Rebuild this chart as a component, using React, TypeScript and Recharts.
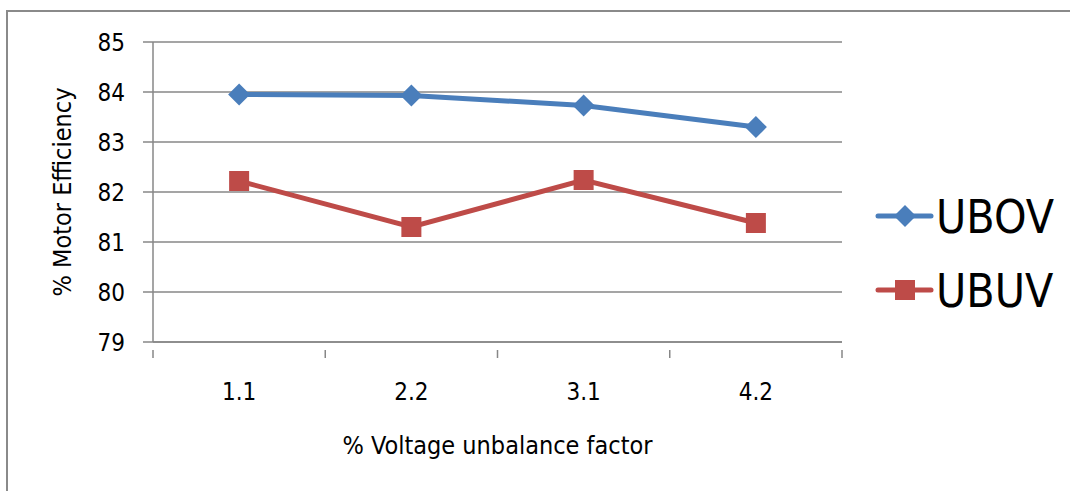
import React from "react";
import { LineChart, Line, XAxis, YAxis, CartesianGrid, Label } from "recharts";

const categories = ["1.1", "2.2", "3.1", "4.2"];
const ubovValues = [83.95, 83.93, 83.73, 83.3];
const ubuvValues = [82.22, 81.3, 82.24, 81.38];
const yTicks = [79, 80, 81, 82, 83, 84, 85];
const seriesNames = ["UBOV", "UBUV"];

const data = categories.map((c, i) => ({ factor: c, UBOV: ubovValues[i], UBUV: ubuvValues[i] }));

const FONT = "'Liberation Sans Narrow', 'DejaVu Sans Condensed', 'Liberation Sans', sans-serif";
const GRID = "#878787";
const BLUE = "#4A7EBB";
const RED = "#BE4B48";

const W = 1070;
const H = 491;
const X_H = 149;
const M = { top: 42, right: 228, bottom: 0, left: 0 };
const Y_W = 153;
const BAND = (W - M.left - M.right - Y_W) / categories.length;

const Diamond = (props: any) => {
    const { cx, cy, fill } = props;
    if (cx == null || cy == null) return null;
    const r = 11;
    return <path d={`M${cx},${cy - r}L${cx + r},${cy}L${cx},${cy + r}L${cx - r},${cy}Z`} fill={fill} />;
};

const Square = (props: any) => {
    const { cx, cy, fill } = props;
    if (cx == null || cy == null) return null;
    const s = 10;
    return <rect x={cx - s} y={cy - s} width={s * 2} height={s * 2} fill={fill} />;
};

// category labels centred in each band, tick marks on the band edges
const XTick = (props: any) => {
    const { x, y, payload, index } = props;
    const last = index === categories.length - 1;
    return (
        <g>
            <line x1={x - BAND / 2} x2={x - BAND / 2} y1={y} y2={y + 8} stroke={GRID} strokeWidth={1.5} />
            {last && <line x1={x + BAND / 2} x2={x + BAND / 2} y1={y} y2={y + 8} stroke={GRID} strokeWidth={1.5} />}
            <text x={x} y={y + 50} textAnchor="middle" fontSize={24} fontFamily={FONT} fill="#000">
                {payload.value}
            </text>
        </g>
    );
};

const LegendBox = () => {
    const colors = [BLUE, RED];
    return (
        <svg width={190} height={130} style={{ position: "absolute", left: 875, top: 194 }}>
            {seriesNames.map((name, i) => {
                const cy = 22 + i * 74;
                return (
                    <g key={name}>
                        <line x1={3} x2={56} y1={cy} y2={cy} stroke={colors[i]} strokeWidth={5} strokeLinecap="round" />
                        {i === 0 ? <Diamond cx={30} cy={cy} fill={colors[i]} /> : <Square cx={30} cy={cy} fill={colors[i]} />}
                        <text x={61} y={cy + 17} fontSize={46} fontFamily={FONT} fill="#000">
                            {name}
                        </text>
                    </g>
                );
            })}
        </svg>
    );
};

export default function App() {
    return (
        <div style={{ position: "absolute", left: 0, top: 0, width: W, height: H, background: "#fff", overflow: "hidden" }}>
            <div style={{ position: "absolute", left: 6, top: 10, width: W, height: H, border: "2px solid #8a8a8a", boxSizing: "border-box" }} />
            <LineChart width={W} height={H} data={data} margin={M}>
                <CartesianGrid vertical={false} stroke={GRID} strokeWidth={1.5} />
                <XAxis
                    dataKey="factor"
                    scale="band"
                    height={X_H}
                    stroke={GRID}
                    strokeWidth={1.5}
                    tickLine={false}
                    interval={0}
                    tick={<XTick />}
                >
                    <Label value="% Voltage unbalance factor" position="insideTop" offset={94} fontSize={25} fontFamily={FONT} fill="#000" />
                </XAxis>
                <YAxis
                    domain={[79, 85]}
                    ticks={yTicks}
                    width={Y_W}
                    stroke={GRID}
                    strokeWidth={1.5}
                    tickSize={10}
                    tickMargin={18}
                    tick={{ fontSize: 24, fontFamily: FONT, fill: "#000" }}
                    interval={0}
                >
                    <Label value="% Motor Efficiency" angle={-90} position="insideLeft" offset={62} fontSize={25} fontFamily={FONT} fill="#000" style={{ textAnchor: "middle" }} />
                </YAxis>
                <Line dataKey="UBOV" stroke={BLUE} strokeWidth={5} dot={<Diamond />} fill={BLUE} isAnimationActive={false} />
                <Line dataKey="UBUV" stroke={RED} strokeWidth={5} dot={<Square />} fill={RED} isAnimationActive={false} />
            </LineChart>
            <LegendBox />
        </div>
    );
}
